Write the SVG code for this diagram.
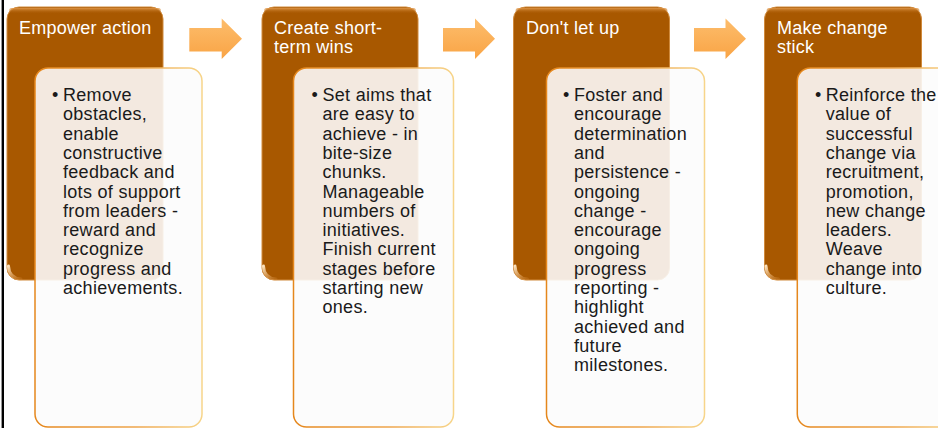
<svg xmlns="http://www.w3.org/2000/svg" width="938" height="428" viewBox="0 0 938 428">
  <defs>
    <linearGradient id="arrowFill" x1="0" y1="0" x2="0" y2="1">
      <stop offset="0" stop-color="#fdbd6c"/>
      <stop offset="1" stop-color="#f9a445"/>
    </linearGradient>
    <linearGradient id="panelEdge" x1="0" y1="0" x2="1" y2="0">
      <stop offset="0" stop-color="#e5871c"/>
      <stop offset="0.6" stop-color="#eea54c"/>
      <stop offset="1" stop-color="#f7d58a"/>
    </linearGradient>
    <linearGradient id="tabShine" x1="0" y1="0" x2="0" y2="1">
      <stop offset="0" stop-color="#e39a4c" stop-opacity="0.9"/>
      <stop offset="1" stop-color="#a85800" stop-opacity="0"/>
    </linearGradient>
    <linearGradient id="cornerGloss" x1="0" y1="0" x2="1" y2="1">
      <stop offset="0" stop-color="#fbe3c0"/>
      <stop offset="1" stop-color="#e59a48" stop-opacity="0.2"/>
    </linearGradient>
  </defs>
  <style>
    .tab { fill: #a85800; stroke: #d08a3c; stroke-width: 1; }
    .shine { fill: url(#tabShine); }
    .gloss { fill: none; stroke: url(#cornerGloss); stroke-width: 3; stroke-linecap: round; }
    .panel { fill: #fcfcfc; fill-opacity: 0.89; stroke: url(#panelEdge); stroke-width: 1.5; }
    .title { font-family: "Liberation Sans", Arial, sans-serif; font-size: 18px; letter-spacing: 0.25px; fill: #ffffff; }
    .body { font-family: "Liberation Sans", Arial, sans-serif; font-size: 18px; letter-spacing: 0.3px; fill: #1a1a1a; }
    .arrow { fill: url(#arrowFill); }
  </style>

  <!-- page edge -->
  <rect x="1.6" y="0" width="2.4" height="428" fill="#000000"/>

  <!-- step 1 -->
  <g id="empower-action">
    <rect class="tab" x="7" y="7" width="156" height="273" rx="12"/>
    <rect class="shine" x="9" y="8" width="152" height="6" rx="3"/>
    <path class="gloss" d="M8.5 266 Q9 278 21 279"/>
    <text class="title" x="19" y="33.5">Empower action</text>
    <rect class="panel" x="35" y="68" width="167" height="359" rx="13"/>
    <text class="body" x="52" y="101">•</text>
    <text class="body">
      <tspan x="63" y="101">Remove</tspan>
      <tspan x="63" y="120.3">obstacles,</tspan>
      <tspan x="63" y="139.6">enable</tspan>
      <tspan x="63" y="158.9">constructive</tspan>
      <tspan x="63" y="178.2">feedback and</tspan>
      <tspan x="63" y="197.5">lots of support</tspan>
      <tspan x="63" y="216.8">from leaders -</tspan>
      <tspan x="63" y="236.1">reward and</tspan>
      <tspan x="63" y="255.4">recognize</tspan>
      <tspan x="63" y="274.7">progress and</tspan>
      <tspan x="63" y="294">achievements.</tspan>
    </text>
  </g>

  <!-- step 2 -->
  <g id="short-term-wins">
    <rect class="tab" x="262" y="7" width="156" height="273" rx="12"/>
    <rect class="shine" x="264" y="8" width="152" height="6" rx="3"/>
    <path class="gloss" d="M263.5 266 Q264 278 276 279"/>
    <text class="title"><tspan x="274" y="33.5">Create short-</tspan><tspan x="274" y="52.5">term wins</tspan></text>
    <rect class="panel" x="293.5" y="68" width="160" height="359" rx="13"/>
    <text class="body" x="311.5" y="101">•</text>
    <text class="body">
      <tspan x="322.5" y="101">Set aims that</tspan>
      <tspan x="322.5" y="120.3">are easy to</tspan>
      <tspan x="322.5" y="139.6">achieve - in</tspan>
      <tspan x="322.5" y="158.9">bite-size</tspan>
      <tspan x="322.5" y="178.2">chunks.</tspan>
      <tspan x="322.5" y="197.5">Manageable</tspan>
      <tspan x="322.5" y="216.8">numbers of</tspan>
      <tspan x="322.5" y="236.1">initiatives.</tspan>
      <tspan x="322.5" y="255.4">Finish current</tspan>
      <tspan x="322.5" y="274.7">stages before</tspan>
      <tspan x="322.5" y="294">starting new</tspan>
      <tspan x="322.5" y="313.3">ones.</tspan>
    </text>
  </g>

  <!-- step 3 -->
  <g id="dont-let-up">
    <rect class="tab" x="513.5" y="7" width="156" height="273" rx="12"/>
    <rect class="shine" x="515.5" y="8" width="152" height="6" rx="3"/>
    <path class="gloss" d="M515 266 Q515.5 278 527.5 279"/>
    <text class="title" x="526" y="33.5">Don't let up</text>
    <rect class="panel" x="546.5" y="68" width="158" height="359" rx="13"/>
    <text class="body" x="563" y="101">•</text>
    <text class="body">
      <tspan x="574" y="101">Foster and</tspan>
      <tspan x="574" y="120.3">encourage</tspan>
      <tspan x="574" y="139.6">determination</tspan>
      <tspan x="574" y="158.9">and</tspan>
      <tspan x="574" y="178.2">persistence -</tspan>
      <tspan x="574" y="197.5">ongoing</tspan>
      <tspan x="574" y="216.8">change -</tspan>
      <tspan x="574" y="236.1">encourage</tspan>
      <tspan x="574" y="255.4">ongoing</tspan>
      <tspan x="574" y="274.7">progress</tspan>
      <tspan x="574" y="294">reporting -</tspan>
      <tspan x="574" y="313.3">highlight</tspan>
      <tspan x="574" y="332.6">achieved and</tspan>
      <tspan x="574" y="351.9">future</tspan>
      <tspan x="574" y="371.2">milestones.</tspan>
    </text>
  </g>

  <!-- step 4 -->
  <g id="make-change-stick">
    <rect class="tab" x="764.5" y="7" width="157" height="273" rx="12"/>
    <rect class="shine" x="766.5" y="8" width="153" height="6" rx="3"/>
    <path class="gloss" d="M766 266 Q766.5 278 778.5 279"/>
    <text class="title"><tspan x="777" y="33.5">Make change</tspan><tspan x="777" y="52.5">stick</tspan></text>
    <rect class="panel" x="797.3" y="68" width="158" height="359" rx="13"/>
    <text class="body" x="815" y="101">•</text>
    <text class="body">
      <tspan x="825.7" y="101">Reinforce the</tspan>
      <tspan x="825.7" y="120.3">value of</tspan>
      <tspan x="825.7" y="139.6">successful</tspan>
      <tspan x="825.7" y="158.9">change via</tspan>
      <tspan x="825.7" y="178.2">recruitment,</tspan>
      <tspan x="825.7" y="197.5">promotion,</tspan>
      <tspan x="825.7" y="216.8">new change</tspan>
      <tspan x="825.7" y="236.1">leaders.</tspan>
      <tspan x="825.7" y="255.4">Weave</tspan>
      <tspan x="825.7" y="274.7">change into</tspan>
      <tspan x="825.7" y="294">culture.</tspan>
    </text>
  </g>

  <!-- block arrows between steps -->
  <g id="connectors">
    <path class="arrow" d="M189.3 28 H221.7 V18.5 L242 38.8 L221.7 59 V51.5 H189.3 Z"/>
    <path class="arrow" d="M443 28 H475 V18.5 L495 38.8 L475 59 V51.5 H443 Z"/>
    <path class="arrow" d="M694 28 H725.5 V18.5 L746 38.8 L725.5 59 V51.5 H694 Z"/>
  </g>
</svg>
